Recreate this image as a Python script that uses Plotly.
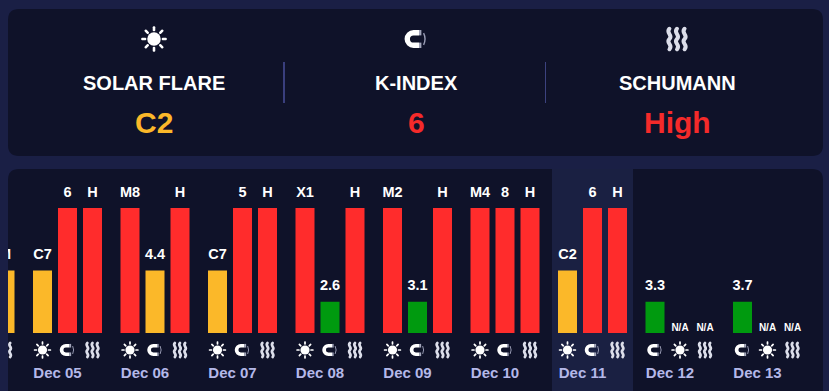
import base64
import plotly.graph_objects as go

W, H = 829, 391

# ---------- data ----------
dates = ["Dec 04", "Dec 05", "Dec 06", "Dec 07", "Dec 08", "Dec 09", "Dec 10", "Dec 11", "Dec 12", "Dec 13"]
flare_labels = [None, "C7", "M8", "C7", "X1", "M2", "M4", "C2", "N/A", "N/A"]
flare_levels = [None, 2, 4, 2, 4, 4, 4, 2, 0, 0]
k_labels = [None, "6", "4.4", "5", "2.6", "3.1", "8", "6", "3.3", "3.7"]
k_levels = [None, 4, 2, 4, 1, 1, 4, 4, 1, 1]
sch_labels = ["M", "H", "H", "H", "H", "H", "H", "H", "N/A", "N/A"]
sch_levels = [2, 4, 4, 4, 4, 4, 4, 4, 0, 0]
flare_slots = [0, 0, 0, 0, 0, 0, 0, 0, 1, 1]
k_slots = [1, 1, 1, 1, 1, 1, 1, 1, 0, 0]
sch_slots = [2, 2, 2, 2, 2, 2, 2, 2, 2, 2]
summary_titles = ["SOLAR FLARE", "K-INDEX", "SCHUMANN"]
summary_values = ["C2", "6", "High"]

# ---------- style ----------
BG = "#1a1f45"
CARD = "#0f1229"
BAND = "#1a2042"
RED = "#ff2c2c"
YELLOW = "#fbb829"
GREEN = "#009a0f"
DATE = "#b4b8e8"
FONT = "Liberation Sans"
LEVEL_COLORS = {0: RED, 1: GREEN, 2: YELLOW, 4: RED}
SUMMARY_COLORS = [YELLOW, "#f52a2a", "#f52a2a"]
SUMMARY_X = [154, 416, 677]

SLOT_PX = 25.0
GROUP_SLOTS = 3.5
LEVEL_PX = 31.25
BASE_PX = 333
PLOT_L, PLOT_R, PLOT_T, PLOT_B = 8, 823, 169, 362


def px(x):
    return x / W


def py(y):
    return 1 - y / H


def svg_uri(body, box=24):
    svg = f'<svg xmlns="http://www.w3.org/2000/svg" viewBox="0 0 {box} {box}" width="96" height="96">{body}</svg>'
    return "data:image/svg+xml;base64," + base64.b64encode(svg.encode()).decode()


rays = "".join(
    f'<rect x="10.9" y="1" width="2.2" height="4.4" rx=".9" fill="#fff" transform="rotate({a} 12 12)"/>'
    for a in range(0, 360, 45)
)
SUN = svg_uri(f'<circle cx="12" cy="12" r="5.8" fill="#fff"/>{rays}')
MAGNET = svg_uri(
    '<path d="M14.6 6.6 L9.9 6.6 A5.4 5.4 0 0 0 9.9 17.4 L14.6 17.4" stroke="#fff" stroke-width="4.6" fill="none"/>'
    '<rect x="14.6" y="4.3" width="2" height="4.6" fill="#a5a8bd"/>'
    '<rect x="14.6" y="15.1" width="2" height="4.6" fill="#a5a8bd"/>'
    '<path d="M18.5 7 Q21 12 18.5 17" stroke="#9a9db5" stroke-width="1.2" fill="none"/>'
)
wave = ('<path d="M{x} 3.2 C{a} 7,{b} 8.5,{x} 12 C{a} 15.5,{b} 17,{x} 20.8" stroke="#dcdeea" '
        'stroke-width="3.4" fill="none" stroke-linecap="round"/>')
SCH = svg_uri("".join(wave.format(x=x, a=x - 3.6, b=x + 3.6) for x in (5.5, 12, 18.5)))


def xpos(day, slot):
    return day * GROUP_SLOTS + slot


days = list(range(len(dates)))
fig = go.Figure()

for levels, slots in ((flare_levels, flare_slots), (k_levels, k_slots), (sch_levels, sch_slots)):
    fig.add_bar(
        x=[xpos(d, s) for d, s in zip(days, slots)],
        y=levels,
        width=0.76,
        marker=dict(color=[LEVEL_COLORS.get(v, RED) for v in levels], line_width=0),
        hoverinfo="skip",
    )

for labels, levels, slots in (
    (flare_labels, flare_levels, flare_slots),
    (k_labels, k_levels, k_slots),
    (sch_labels, sch_levels, sch_slots),
):
    keep = [d for d in days if labels[d] is not None]
    fig.add_scatter(
        x=[xpos(d, slots[d]) for d in keep],
        y=[levels[d] + (15 if levels[d] else 5) / LEVEL_PX for d in keep],
        mode="text",
        text=[labels[d] for d in keep],
        textposition="middle center",
        textfont=dict(family=FONT, color="#ffffff", weight="bold",
                      size=[14.5 if levels[d] else 10 for d in keep]),
        hoverinfo="skip",
        cliponaxis=True,
    )


# ---------- decorative shapes ----------
def rounded(l, t, r, b, rad, fill):
    path = (
        f"M {px(l)} {py(t + rad)} Q {px(l)} {py(t)} {px(l + rad)} {py(t)} "
        f"L {px(r - rad)} {py(t)} Q {px(r)} {py(t)} {px(r)} {py(t + rad)} "
        f"L {px(r)} {py(b - rad)} Q {px(r)} {py(b)} {px(r - rad)} {py(b)} "
        f"L {px(l + rad)} {py(b)} Q {px(l)} {py(b)} {px(l)} {py(b - rad)} Z"
    )
    return dict(type="path", path=path, xref="paper", yref="paper", fillcolor=fill,
                line_width=0, layer="below")


shapes = [
    rounded(8, 9, 823, 156, 11, CARD),
    rounded(8, 169, 823, 400, 11, CARD),
    dict(type="rect", xref="paper", yref="paper", x0=px(552), x1=px(633), y0=py(H), y1=py(169),
         fillcolor=BAND, line_width=0, layer="below"),
    dict(type="line", xref="paper", yref="paper", x0=px(284), x1=px(284), y0=py(62), y1=py(103),
         line=dict(color="#454b93", width=1.6), layer="below"),
    dict(type="line", xref="paper", yref="paper", x0=px(545.5), x1=px(545.5), y0=py(62), y1=py(103),
         line=dict(color="#3c427f", width=1), layer="below"),
]

annotations = []
for x, title, val, col in zip(SUMMARY_X, summary_titles, summary_values, SUMMARY_COLORS):
    annotations.append(dict(x=px(x), y=py(83), xref="paper", yref="paper", text=f"<b>{title}</b>",
                            showarrow=False, xanchor="center", yanchor="middle",
                            font=dict(family=FONT, size=20, color="#ffffff")))
    annotations.append(dict(x=px(x), y=py(123), xref="paper", yref="paper", text=f"<b>{val}</b>",
                            showarrow=False, xanchor="center", yanchor="middle",
                            font=dict(family=FONT, size=30, color=col)))

images = []
for x, src in zip(SUMMARY_X, (SUN, MAGNET, SCH)):
    images.append(dict(source=src, xref="paper", yref="paper", x=px(x), y=py(39), sizex=28 / W,
                       sizey=28 / H, xanchor="center", yanchor="middle", layer="above"))
ICON_LEVEL = (BASE_PX - 350) / LEVEL_PX
for d in days:
    for src, slot, lab in ((SUN, flare_slots[d], flare_labels[d]), (MAGNET, k_slots[d], k_labels[d]),
                           (SCH, sch_slots[d], sch_labels[d])):
        if lab is None:
            continue
        images.append(dict(source=src, xref="x", yref="y", x=xpos(d, slot), y=ICON_LEVEL,
                           sizex=19 / SLOT_PX, sizey=19 / LEVEL_PX, xanchor="center", yanchor="middle",
                           layer="above"))

fig.update_layout(
    width=W, height=H,
    margin=dict(l=0, r=0, t=0, b=0),
    paper_bgcolor=BG, plot_bgcolor="rgba(0,0,0,0)",
    showlegend=False, hovermode=False, barmode="overlay",
    shapes=shapes, annotations=annotations, images=images,
    font=dict(family=FONT),
    xaxis=dict(
        domain=[px(PLOT_L), px(PLOT_R)],
        range=[(PLOT_L - 42.5 + 87.5) / SLOT_PX, (PLOT_R - 42.5 + 87.5) / SLOT_PX],
        tickmode="array",
        tickvals=[xpos(d, 0.6) for d in days],
        ticktext=dates,
        ticks="", showgrid=False, zeroline=False, showline=False, fixedrange=True,
        tickangle=0,
        tickfont=dict(family=FONT, size=15, color=DATE, weight="bold"),
    ),
    yaxis=dict(
        domain=[py(PLOT_B), py(PLOT_T)],
        range=[(BASE_PX - PLOT_B) / LEVEL_PX, (BASE_PX - PLOT_T) / LEVEL_PX],
        showticklabels=False, ticks="", showgrid=False, zeroline=False, showline=False, fixedrange=True,
    ),
)

fig.write_html("out.html", config=dict(displayModeBar=False),
               post_script="document.body.style.margin='0';document.body.style.overflow='hidden';")
